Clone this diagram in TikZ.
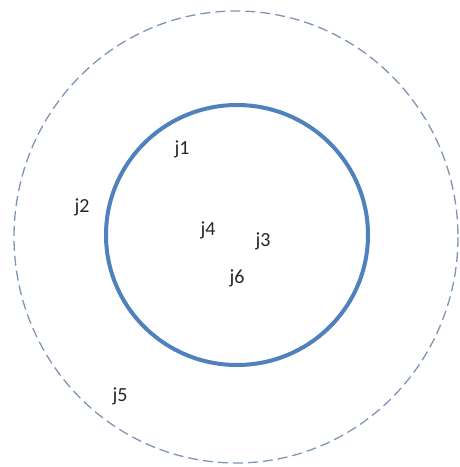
\documentclass[tikz,border=0pt]{standalone}
\usepackage{fontspec}
\setmainfont{Carlito}
\definecolor{ringblue}{HTML}{4F81BD}
\definecolor{dashblue}{HTML}{7F95B5}
\begin{document}
\begin{tikzpicture}[x=1pt,y=-1pt,
  lbl/.style={font=\fontsize{20}{22}\selectfont, text=black!85, inner sep=0pt}]
\useasboundingbox (0,0) rectangle (459,467);
\draw[dashblue, line width=1.3pt, dash pattern=on 10pt off 5pt] (236,237) ellipse [x radius=222, y radius=226];
\draw[ringblue, line width=4pt] (237,235) ellipse [x radius=131, y radius=130];
\node[lbl] (j1) at (182,149) {j1};
\node[lbl] (j2) at (82,207) {j2};
\node[lbl] (j4) at (208,230) {j4};
\node[lbl] (j3) at (263,241) {j3};
\node[lbl] (j6) at (237,278) {j6};
\node[lbl] (j5) at (120,396) {j5};
\end{tikzpicture}
\end{document}
